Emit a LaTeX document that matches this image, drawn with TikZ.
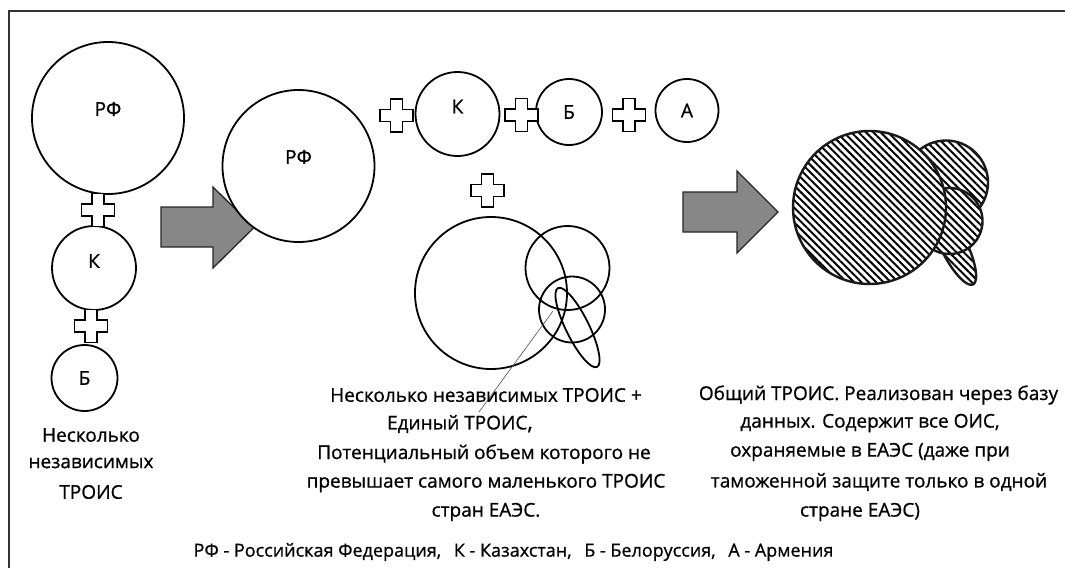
\documentclass[tikz,border=0pt]{standalone}
\usepackage{fontspec}
\setmainfont{Open Sans}[RawFeature={embolden=0.8}]
\usetikzlibrary{shapes.geometric,patterns.meta}
\begin{document}
\begin{tikzpicture}[x=1pt,y=-1pt,
  circ/.style={draw=black, line width=1.8pt, circle, fill=white, inner sep=0pt},
  rf/.style={circ, minimum size=152pt},
  kz/.style={circ, minimum size=84pt},
  by/.style={circ, minimum size=66pt},
  am/.style={circ, minimum size=63pt},
  outl/.style={draw=black, line width=1.8pt, inner sep=0pt},
  lbl/.style={font=\fontsize{19}{22}\selectfont, inner sep=0pt, text=black},
  captext/.style={font=\fontsize{19}{23}\selectfont, inner sep=0pt, text=black},
  legendtext/.style={font=\fontsize{18}{21}\selectfont, inner sep=0pt, text=black},
  plusst/.style={draw=black, line width=1.6pt, fill=white, line join=miter},
  bigarrow/.style={draw=black!85, line width=1.3pt, fill=black!47},
  hatchst/.style={draw=black!90, line width=2.4pt, inner sep=0pt, preaction={fill=white},
    pattern={Lines[angle=-45,distance=5.2pt,line width=2.0pt]}},
  leader/.style={draw=black!70, line width=0.6pt},
  frameline/.style={draw=black!80, line width=1.2pt},
  pics/plussign/.style={code={\path[plusst] (-6,-16.5) -- (6,-16.5) -- (6,-6) -- (16.5,-6) -- (16.5,6) -- (6,6) -- (6,16.5) -- (-6,16.5) -- (-6,6) -- (-16.5,6) -- (-16.5,-6) -- (-6,-6) -- cycle;}}
]
\useasboundingbox (0,0) rectangle (1065,568);
\path[frameline] (9,568) -- (9,11) -- (1065,11);

% ---------- left column ----------
\node[rf] (rf1) at (108,118) {};
\node[lbl] at ([yshift=9pt]rf1.center) {РФ};
\node[kz] (kz1) at (94,268) {};
\node[lbl] at ([yshift=7pt]kz1.center) {К};
\node[by] (by1) at (84.5,378) {};
\node[lbl] at (by1.center) {Б};
\pic at (98,210) {plussign};
\pic at (91,326) {plussign};
\node[captext] (capL1) at (91,435) {Несколько};
\node[captext] (capL2) at (91,463) {независимых};
\node[captext] (capL3) at (91,492) {ТРОИС};

% ---------- first arrow ----------
\path[bigarrow] (161,207) -- (213,207) -- (213,187) -- (254,227.5) -- (213,268) -- (213,247) -- (161,247) -- cycle;

% ---------- middle part ----------
\node[rf] (rf2) at (298.5,166) {};
\node[lbl] at ([yshift=9pt]rf2.center) {РФ};
\node[kz] (kz2) at (457.5,114) {};
\node[lbl] at ([yshift=7.5pt]kz2.center) {К};
\node[by] (by2) at (569,112) {};
\node[lbl] at (by2.center) {Б};
\node[am] (am2) at (687,110.5) {};
\node[lbl] at (am2.center) {А};
\pic at (396.5,115.5) {plussign};
\pic at (521.5,115) {plussign};
\pic at (629,115) {plussign};
\pic at (487.5,190.5) {plussign};

% Venn group (outlines only)
\node[outl, circle, minimum size=152pt] (vrf) at (491,293) {};
\node[outl, circle, minimum size=84pt] (vkz) at (567.5,268) {};
\node[outl, circle, minimum size=66pt] (vby) at (572,309.5) {};
\node[outl, ellipse, minimum width=88pt, minimum height=23pt, rotate=-63.7] (vam) at (577.5,327.5) {};
\coordinate (leadA) at (553,311);
\coordinate (leadB) at (479,412);
\path[leader] (leadA) -- (leadB);

\node[captext] (capM1) at (486,395) {Несколько независимых ТРОИС +};
\node[captext] (capM2) at (460,424) {Единый ТРОИС{\fontsize{22}{23}\selectfont,}};
\node[captext] (capM3) at (484,454) {Потенциальный объем которого не};
\node[captext] (capM4) at (486,483) {превышает самого маленького ТРОИС};
\node[captext] (capM5) at (486,512) {стран ЕАЭС.};

% ---------- second arrow ----------
\path[bigarrow] (683,192) -- (737,192) -- (737,171) -- (778,212) -- (737,253) -- (737,232) -- (683,232) -- cycle;

% ---------- hatched union ----------
\path[hatchst] plot[domain=0:360, samples=72, smooth cycle]
  ({953 + 45*cos(\x)*0.4431 - 13*sin(\x)*0.8965}, {244 + 45*cos(\x)*0.8965 + 13*sin(\x)*0.4431});
\node[hatchst, circle, minimum size=84pt] (hkz) at (946,182.5) {};
\node[hatchst, circle, minimum size=66pt] (hby) at (949.5,221) {};
\node[hatchst, circle, minimum size=153pt] (hrf) at (869.5,207.5) {};

\node[captext] (capR1) at (878.5,395) {Общий ТРОИС. Реализован через базу};
\node[captext] (capR2) at (870,423) {данных. Содержит все ОИС,};
\node[captext] (capR3) at (870,452) {охраняемые в ЕАЭС (даже при};
\node[captext] (capR4) at (879,482) {таможенной защите только в одной};
\node[captext] (capR5) at (860,512) {стране ЕАЭС)};

% ---------- legend ----------
\node[legendtext] (leg) at (513.5,552) {РФ - Российская Федерация,\hspace{8pt} К - Казахстан,\hspace{8pt} Б - Белоруссия,\hspace{8pt} А - Армения};
\end{tikzpicture}
\end{document}
